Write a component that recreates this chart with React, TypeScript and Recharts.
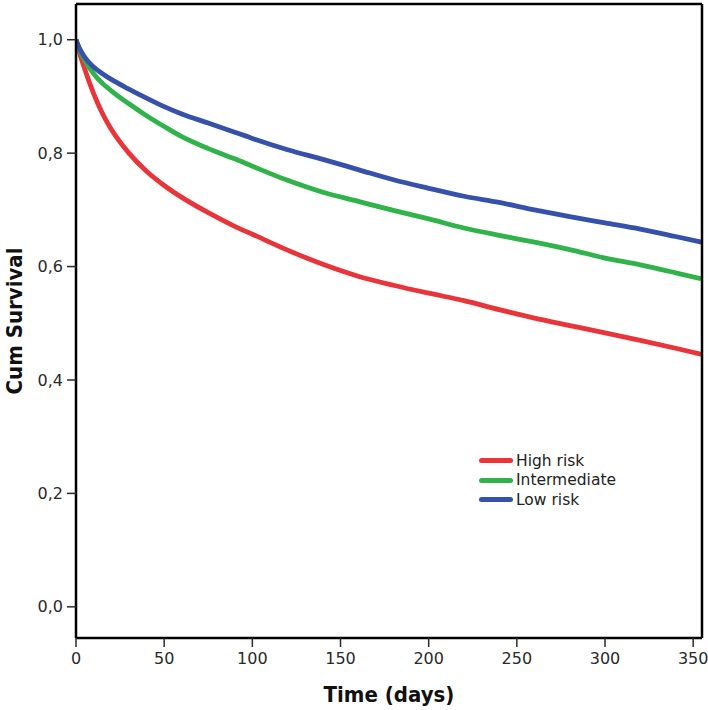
import React from 'react';
import {
  LineChart,
  Line,
  XAxis,
  YAxis
} from 'recharts';

// follow-up time (days)
const timeDays = [0, 2, 5, 10, 15, 20, 30, 40, 50, 60, 75, 90, 100, 120, 140, 160, 180, 200, 220, 240, 260, 280, 300, 320, 340, 355];

// cumulative survival per risk group
const highRisk = [1.0, 0.977, 0.948, 0.905, 0.870, 0.842, 0.800, 0.768, 0.743, 0.722, 0.695, 0.671, 0.657, 0.629, 0.604, 0.583, 0.567, 0.553, 0.540, 0.524, 0.509, 0.496, 0.483, 0.470, 0.456, 0.445];
const intermediate = [1.0, 0.982, 0.963, 0.940, 0.923, 0.910, 0.887, 0.866, 0.847, 0.829, 0.808, 0.790, 0.777, 0.752, 0.731, 0.715, 0.699, 0.684, 0.668, 0.655, 0.643, 0.630, 0.615, 0.603, 0.589, 0.578];
const lowRisk = [1.0, 0.985, 0.969, 0.952, 0.940, 0.930, 0.913, 0.897, 0.882, 0.869, 0.853, 0.837, 0.826, 0.806, 0.789, 0.771, 0.753, 0.738, 0.724, 0.713, 0.700, 0.688, 0.677, 0.666, 0.653, 0.643];

const seriesKeys = ['high', 'mid', 'low'];
const seriesNames = ['High risk', 'Intermediate', 'Low risk'];
const seriesColors = ['#e9343a', '#2fb34a', '#3651ab'];

const xTicks = [0, 50, 100, 150, 200, 250, 300, 350];
const yTicks = [0, 0.2, 0.4, 0.6, 0.8, 1.0];

const data = timeDays.map((t, i) => ({
  t,
  high: highRisk[i],
  mid: intermediate[i],
  low: lowRisk[i]
}));

const TITLE_FONT = '"Liberation Sans Narrow", "DejaVu Sans Condensed", sans-serif';
const TICK_FONT = '"DejaVu Sans", "Noto Sans", sans-serif';

export default function App() {
  return (
    <div style={{ position: 'absolute', left: 0, top: 0, width: 708, height: 710, background: '#fff' }}>
      <LineChart
        width={708}
        height={710}
        data={data}
        margin={{ top: 3, right: 5, bottom: 0, left: 0 }}
      >
        <XAxis
          dataKey="t"
          type="number"
          domain={[0, 355]}
          ticks={xTicks}
          allowDataOverflow
          height={72}
          stroke="#000"
          strokeWidth={2.5}
          tickSize={9}
          tickMargin={6}
          tickLine={{ stroke: '#2a2a2a', strokeWidth: 1.5 }}
          tick={{ fill: '#2a2a2a', fontSize: 16, fontFamily: TICK_FONT }}
          label={{
            value: 'Time (days)',
            position: 'insideBottom',
            offset: 8,
            style: { fontFamily: TITLE_FONT, fontWeight: 'bold', fontSize: 22, fill: '#111' }
          }}
        />
        <XAxis
          xAxisId="top"
          orientation="top"
          dataKey="t"
          type="number"
          domain={[0, 355]}
          height={1}
          tick={false}
          tickLine={false}
          stroke="#000"
          strokeWidth={2.5}
        />
        <YAxis
          type="number"
          domain={[-0.055, 1.063]}
          ticks={yTicks}
          allowDataOverflow
          width={76}
          stroke="#000"
          strokeWidth={2.5}
          tickSize={9}
          tickMargin={4}
          tickLine={{ stroke: '#2a2a2a', strokeWidth: 1.5 }}
          tick={{ fill: '#2a2a2a', fontSize: 16, fontFamily: TICK_FONT }}
          tickFormatter={(v: number) => v.toFixed(1).replace('.', ',')}
          label={{
            value: 'Cum Survival',
            angle: -90,
            position: 'insideLeft',
            offset: 14,
            style: { textAnchor: 'middle', fontFamily: TITLE_FONT, fontWeight: 'bold', fontSize: 22, fill: '#111' }
          }}
        />
        <YAxis
          yAxisId="right"
          orientation="right"
          type="number"
          domain={[-0.055, 1.063]}
          width={1}
          tick={false}
          tickLine={false}
          stroke="#000"
          strokeWidth={2.5}
        />
        {seriesKeys.map((k, i) => (
          <Line
            key={k}
            type="monotone"
            dataKey={k}
            name={seriesNames[i]}
            stroke={seriesColors[i]}
            strokeWidth={4.8}
            dot={false}
            isAnimationActive={false}
          />
        ))}
      </LineChart>

      {/* legend drawn as html so it doesn't eat plot space */}
      <div style={{ position: 'absolute', left: 479, top: 451, fontFamily: TICK_FONT, fontSize: 15.5, color: '#222' }}>
        {seriesNames.map((name, i) => (
          <div key={name} style={{ display: 'flex', alignItems: 'center', height: 19.5 }}>
            <span style={{ display: 'inline-block', width: 34, height: 5, borderRadius: 3, background: seriesColors[i], marginRight: 3 }} />
            <span>{name}</span>
          </div>
        ))}
      </div>
    </div>
  );
}
